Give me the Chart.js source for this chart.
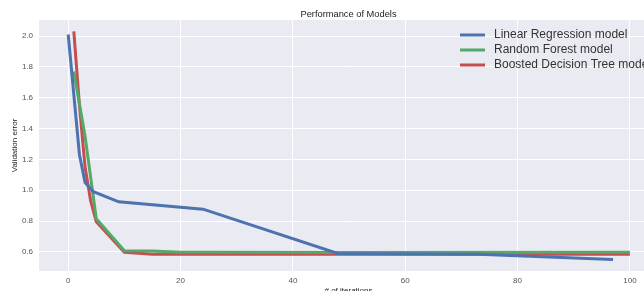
<!DOCTYPE html>
<html>
<head>
    <title>Performance of Models</title>
    <script src="https://cdn.jsdelivr.net/npm/chart.js"></script>
    <style>
        body { margin: 0; overflow: hidden; background: #fff; }
    </style>
</head>
<body>
    <canvas id="perfChart" width="658" height="296"></canvas>

    <script>
        // Dati
        const linearX = [0, 2, 3, 4.5, 9, 24, 48, 73, 97];
        const linearY = [2.01, 1.23, 1.05, 0.99, 0.925, 0.877, 0.59, 0.585, 0.55];

        const forestX = [1, 3, 5, 10, 15, 20, 25, 50, 100];
        const forestY = [1.77, 1.35, 0.815, 0.607, 0.605, 0.598, 0.597, 0.596, 0.597];

        const boostedX = [1, 2, 3, 4, 5, 10, 15, 100];
        const boostedY = [2.03, 1.55, 1.15, 0.93, 0.795, 0.598, 0.585, 0.585];

        const xTicks = [0, 20, 40, 60, 80, 100];
        const yTicks = [0.6, 0.8, 1.0, 1.2, 1.4, 1.6, 1.8, 2.0];

        const labels = ['Linear Regression model', 'Random Forest model', 'Boosted Decision Tree model'];
        const colors = ['#4C72B0', '#55A868', '#C44E52'];
        const chartTitle = 'Performance of Models';

        function toPoints(xs, ys) {
            return xs.map((x, i) => ({ x: x, y: ys[i] }));
        }

        // Sfondo grigio-azzurro dell'area del grafico + titolo centrato sull'area
        const bgPlugin = {
            id: 'plotBg',
            beforeDraw(chart) {
                const a = chart.chartArea;
                const c = chart.ctx;
                c.save();
                c.fillStyle = '#EAEAF2';
                c.fillRect(a.left, a.top, a.right - a.left, a.bottom - a.top);
                c.fillStyle = '#222';
                c.font = '9.3px "Liberation Sans", Arial, sans-serif';
                c.textAlign = 'center';
                c.textBaseline = 'middle';
                c.fillText(chartTitle, (a.left + a.right) / 2, 14);
                c.restore();
            }
        };

        // Legenda dentro l'area, in alto a destra
        const legendPlugin = {
            id: 'innerLegend',
            afterDatasetsDraw(chart) {
                const c = chart.ctx;
                c.save();
                c.font = '12px "Liberation Sans", Arial, sans-serif';
                c.textBaseline = 'middle';
                chart.data.datasets.forEach((ds, i) => {
                    const y = 35 + i * 15;
                    c.strokeStyle = ds.borderColor;
                    c.lineWidth = 3;
                    c.beginPath();
                    c.moveTo(460, y);
                    c.lineTo(485, y);
                    c.stroke();
                    c.fillStyle = '#333';
                    c.fillText(ds.label, 494, y);
                });
                c.restore();
            }
        };

        const tickFont = { family: '"Liberation Sans", Arial, sans-serif', size: 8 };

        new Chart(document.getElementById('perfChart'), {
            type: 'line',
            data: {
                datasets: [
                    { label: labels[0], data: toPoints(linearX, linearY), borderColor: colors[0] },
                    { label: labels[1], data: toPoints(forestX, forestY), borderColor: colors[1] },
                    { label: labels[2], data: toPoints(boostedX, boostedY), borderColor: colors[2] }
                ]
            },
            options: {
                responsive: false,
                animation: false,
                layout: { padding: { top: 20 } },
                elements: {
                    point: { radius: 0 },
                    line: { borderWidth: 3, tension: 0, fill: false }
                },
                plugins: {
                    legend: { display: false },
                    tooltip: { enabled: false },
                    title: { display: false }
                },
                scales: {
                    x: {
                        type: 'linear',
                        min: -5.2,
                        max: 105,
                        afterBuildTicks(scale) { scale.ticks = xTicks.map(v => ({ value: v })); },
                        afterFit(scale) { scale.height = 25; },
                        grid: { color: '#fff', lineWidth: 1, drawTicks: false },
                        border: { display: false },
                        ticks: { font: tickFont, color: '#555', padding: 5 },
                        title: { display: true, text: '# of iterations', color: '#222', font: tickFont, padding: 0 }
                    },
                    y: {
                        min: 0.476,
                        max: 2.104,
                        afterBuildTicks(scale) { scale.ticks = yTicks.map(v => ({ value: v })); },
                        afterFit(scale) { scale.width = 39; },
                        grid: { color: '#fff', lineWidth: 1, drawTicks: false },
                        border: { display: false },
                        ticks: { font: tickFont, color: '#555', padding: 6, callback: v => v.toFixed(1) },
                        title: { display: true, text: 'Validation error', color: '#222', font: tickFont, padding: { top: 10, bottom: 0 } }
                    }
                }
            },
            plugins: [bgPlugin, legendPlugin]
        });
    </script>
</body>
</html>
